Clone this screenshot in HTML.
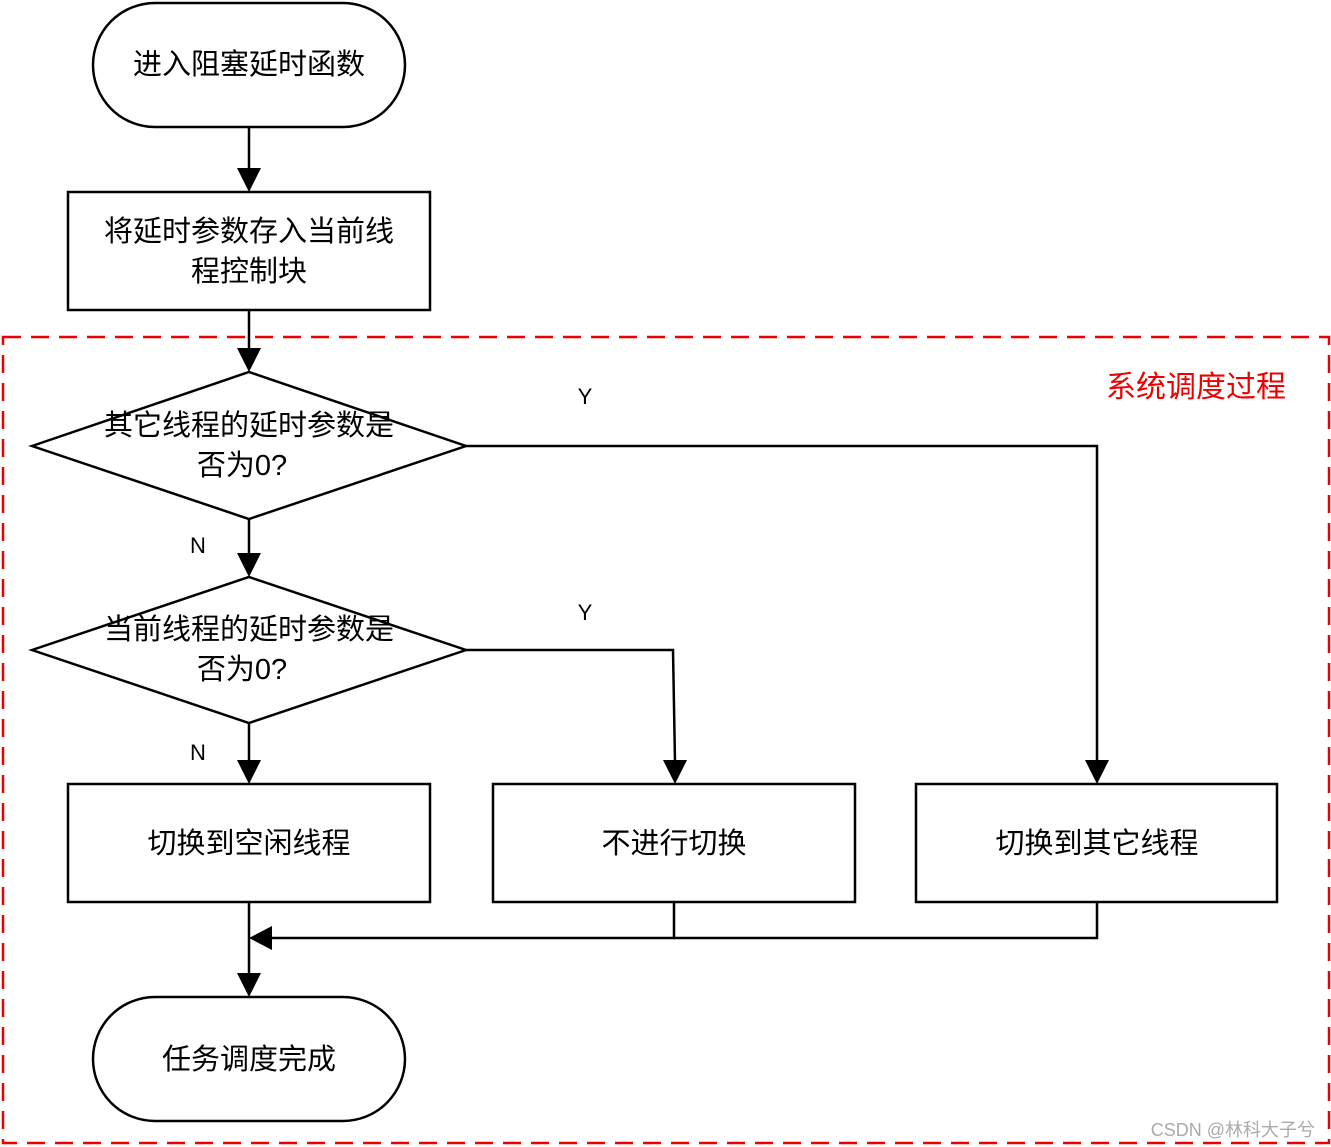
<!DOCTYPE html>
<html><head><meta charset="utf-8"><style>
html,body{margin:0;padding:0;background:#fff;}
svg{display:block;}
text{font-family:"Liberation Sans","Noto Sans CJK SC",sans-serif;}
</style></head><body>
<svg width="1331" height="1147" viewBox="0 0 1331 1147" xmlns="http://www.w3.org/2000/svg">
<defs>
<marker id="a" markerWidth="10" markerHeight="10" refX="9" refY="5" orient="auto" markerUnits="userSpaceOnUse" viewBox="0 0 10 10">
</marker>
</defs>
<rect x="3" y="337" width="1326" height="806" fill="none" stroke="#e00" stroke-width="2.5" stroke-dasharray="18,10"/>
<g fill="none" stroke="#000" stroke-width="2.5">
<rect x="93" y="3" width="312" height="124" rx="62"/>
<rect x="68" y="192" width="362" height="118"/>
<polygon points="32,446 249,372 466,446 249,519"/>
<polygon points="32,650 249,577 466,650 249,723"/>
<rect x="68" y="784" width="362" height="118"/>
<rect x="493" y="784" width="362" height="118"/>
<rect x="916" y="784" width="361" height="118"/>
<rect x="93" y="997" width="312" height="124" rx="62"/>
<path d="M249 127V170"/>
<path d="M249 310V350"/>
<path d="M249 519V555"/>
<path d="M249 723V762"/>
<path d="M466 446H1097V762"/>
<path d="M466 650H673L675 762"/>
<path d="M249 902V975"/>
<path d="M674 902V938M1097 902V938H272"/>
</g>
<g fill="#000">
<polygon points="237,168 261,168 249,192"/>
<polygon points="237,348 261,348 249,372"/>
<polygon points="237,553 261,553 249,577"/>
<polygon points="237,760 261,760 249,784"/>
<polygon points="1085,760 1109,760 1097,784"/>
<polygon points="663,760 687,760 675,784"/>
<polygon points="237,973 261,973 249,997"/>
<polygon points="272,926 272,950 249,938"/>
</g>
<g font-size="29" text-anchor="middle" fill="#000">
<text x="249" y="74">进入阻塞延时函数</text>
<text x="249" y="241">将延时参数存入当前线</text>
<text x="249" y="281">程控制块</text>
<text x="249" y="435">其它线程的延时参数是</text>
<text x="242" y="475">否为0?</text>
<text x="249" y="639">当前线程的延时参数是</text>
<text x="242" y="679">否为0?</text>
<text x="249" y="853">切换到空闲线程</text>
<text x="674" y="853">不进行切换</text>
<text x="1097" y="853">切换到其它线程</text>
<text x="249" y="1069">任务调度完成</text>
</g>
<g font-size="22" text-anchor="middle" fill="#000">
<text x="585" y="404">Y</text>
<text x="198" y="553">N</text>
<text x="585" y="620">Y</text>
<text x="198" y="760">N</text>
</g>
<text x="1196" y="397" font-size="30" text-anchor="middle" fill="#e00">系统调度过程</text>
<text x="1315" y="1136" font-size="18" text-anchor="end" fill="#aaa">CSDN @林科大子兮</text>
</svg>
</body></html>
